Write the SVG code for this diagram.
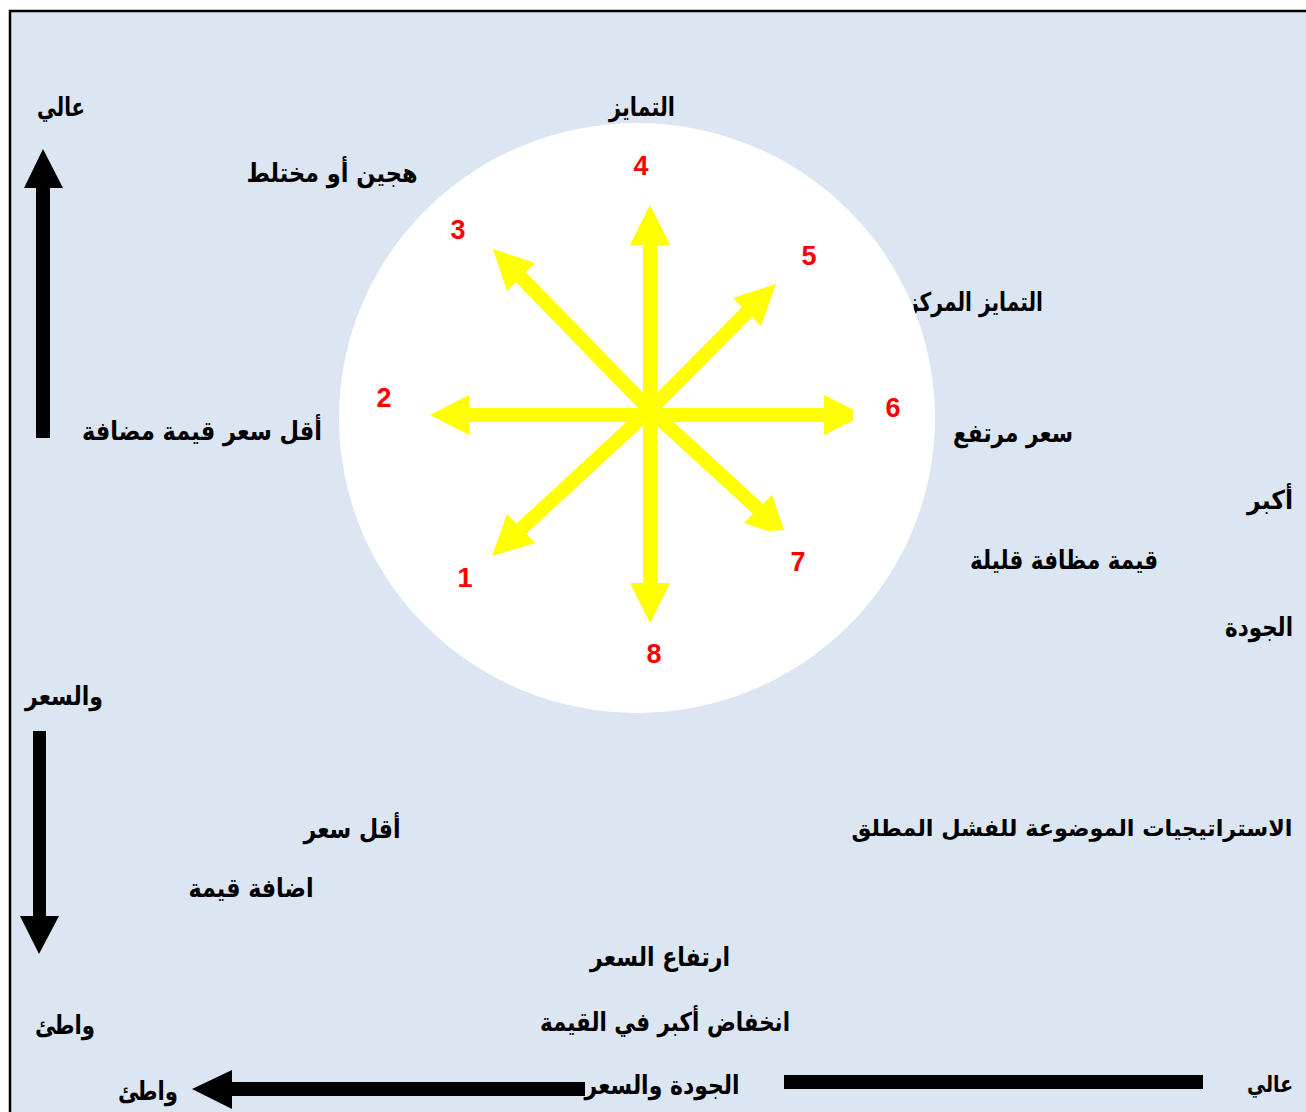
<svg xmlns="http://www.w3.org/2000/svg" width="1306" height="1112" viewBox="0 0 1306 1112">
  <style>
    .ar { font-family: "DejaVu Sans", sans-serif; font-weight: bold; font-size: 26px; fill: #000; text-anchor: middle; direction: rtl; }
    .sm { font-size: 23px; }
    .num { font-family: "Liberation Sans", "Open Sans", sans-serif; font-weight: bold; font-size: 27px; fill: #ff0000; text-anchor: middle; }
    .shaft { stroke: #ffff00; stroke-width: 14; fill: none; stroke-linecap: butt; }
    .head { fill: #ffff00; }
    .blk { fill: #000; }
  </style>
  <rect x="0" y="0" width="1306" height="1112" fill="#ffffff"/>
  <rect id="frame" x="10" y="11" width="1320" height="1130" fill="#dce6f2" stroke="#000" stroke-width="2.5"/>

  <!-- labels partly hidden behind the circle -->
  <g id="lbl-differentiation"><text class="ar" x="642" y="116" textLength="66" lengthAdjust="spacingAndGlyphs">التمايز</text></g>
  <g id="lbl-focused-differentiation"><text class="ar" x="975" y="311" textLength="136" lengthAdjust="spacingAndGlyphs">التمايز المركز</text></g>

  <g id="circle"><ellipse cx="637" cy="418" rx="298" ry="295" fill="#ffffff"/></g>
  <rect x="236" y="140" width="196" height="59" fill="#dce6f2"/>

  <g id="lbl-high-top"><text class="ar" x="61" y="116" textLength="48" lengthAdjust="spacingAndGlyphs">عالي</text></g>
  <g id="lbl-hybrid"><text class="ar" x="332" y="182" textLength="171" lengthAdjust="spacingAndGlyphs">هجين أو مختلط</text></g>
  <g id="lbl-low-price-value"><text class="ar" x="202" y="440" textLength="240" lengthAdjust="spacingAndGlyphs">أقل سعر قيمة مضافة</text></g>
  <g id="lbl-high-price"><text class="ar" x="1013" y="442" textLength="120" lengthAdjust="spacingAndGlyphs">سعر مرتفع</text></g>
  <g id="lbl-bigger"><text class="ar" x="1270" y="509" textLength="46" lengthAdjust="spacingAndGlyphs">أكبر</text></g>
  <g id="lbl-low-value"><text class="ar" x="1064" y="569" textLength="188" lengthAdjust="spacingAndGlyphs">قيمة مظافة قليلة</text></g>
  <g id="lbl-quality"><text class="ar" x="1259" y="636" textLength="68" lengthAdjust="spacingAndGlyphs">الجودة</text></g>
  <g id="lbl-and-price"><text class="ar" x="64" y="705" textLength="78" lengthAdjust="spacingAndGlyphs">والسعر</text></g>
  <g id="lbl-lowest-price"><text class="ar" x="352" y="838" textLength="97" lengthAdjust="spacingAndGlyphs">أقل سعر</text></g>
  <g id="lbl-add-value"><text class="ar" x="251" y="897" textLength="125" lengthAdjust="spacingAndGlyphs">اضافة قيمة</text></g>
  <g id="lbl-failure"><text class="ar sm" x="1072" y="836" textLength="441" lengthAdjust="spacingAndGlyphs">الاستراتيجيات الموضوعة للفشل المطلق</text></g>
  <g id="lbl-price-rise"><text class="ar" x="660" y="966" textLength="140" lengthAdjust="spacingAndGlyphs">ارتفاع السعر</text></g>
  <g id="lbl-value-drop"><text class="ar" x="665" y="1031" textLength="250" lengthAdjust="spacingAndGlyphs">انخفاض أكبر في القيمة</text></g>
  <g id="lbl-quality-price"><text class="ar" x="662" y="1094" textLength="155" lengthAdjust="spacingAndGlyphs">الجودة والسعر</text></g>
  <g id="lbl-high-bottom"><text class="ar sm" x="1270" y="1092" textLength="46" lengthAdjust="spacingAndGlyphs">عالي</text></g>
  <g id="lbl-low-left"><text class="ar" x="65" y="1034" textLength="60" lengthAdjust="spacingAndGlyphs">واطئ</text></g>
  <g id="lbl-low-bottom"><text class="ar" x="148" y="1100" textLength="60" lengthAdjust="spacingAndGlyphs">واطئ</text></g>

  <!-- yellow star of arrows -->
  <g id="star-arrows">
    <line class="shaft" x1="650" y1="415" x2="650" y2="240"/>
    <polygon class="head" points="630,245 670,245 650,205"/>
    <line class="shaft" x1="650" y1="410" x2="650" y2="590"/>
    <polygon class="head" points="630,583 670,583 650,623"/>
    <line class="shaft" x1="652" y1="415" x2="462" y2="415"/>
    <polygon class="head" points="469,395 469,435 430,415"/>
    <line class="shaft" x1="648" y1="415" x2="832" y2="415"/>
    <polygon class="head" points="824,395 853,409.5 853,420.5 824,435"/>
    <line class="shaft" x1="652" y1="412" x2="511" y2="267"/>
    <polygon class="head" points="493,249 535,263 507,291"/>
    <line class="shaft" x1="648" y1="412" x2="759" y2="300"/>
    <polygon class="head" points="776,284 733,298 761,326"/>
    <line class="shaft" x1="652" y1="408" x2="508" y2="541"/>
    <polygon class="head" points="492,556 507,514 535,543"/>
    <line class="shaft" x1="648" y1="408" x2="768" y2="518"/>
    <polygon class="head" points="772,495 784,530 768,531 744,523"/>
  </g>

  <g id="numbers">
    <text class="num" x="641" y="175">4</text>
    <text class="num" x="458" y="239">3</text>
    <text class="num" x="809" y="265">5</text>
    <text class="num" x="384" y="407">2</text>
    <text class="num" x="893" y="417">6</text>
    <text class="num" x="465" y="587">1</text>
    <text class="num" x="798" y="571">7</text>
    <text class="num" x="654" y="663">8</text>
  </g>

  <!-- black axis arrows -->
  <g id="axes">
    <rect class="blk" x="36" y="186" width="14" height="252"/>
    <polygon class="blk" points="24,188 63,188 43,149"/>
    <rect class="blk" x="33" y="731" width="13" height="187"/>
    <polygon class="blk" points="20,916 59,916 39,954"/>
    <rect class="blk" x="230" y="1082" width="355" height="14"/>
    <polygon class="blk" points="232,1070 232,1109 192,1089"/>
    <rect class="blk" x="784" y="1075" width="419" height="14"/>
  </g>
</svg>
